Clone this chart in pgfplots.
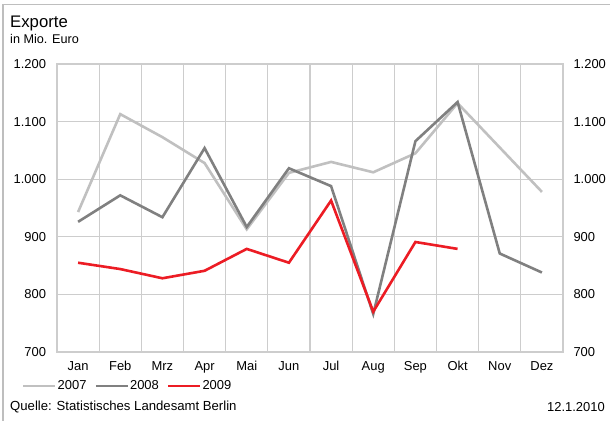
\documentclass[border=0pt]{standalone}
\usepackage{pgfplots}
\pgfplotsset{compat=1.18}
\usepackage{fontspec}
\setmainfont{Liberation Sans}
\definecolor{c07}{RGB}{192,192,192}
\definecolor{c08}{RGB}{128,128,128}
\definecolor{c09}{RGB}{236,28,36}
\definecolor{gridc}{RGB}{205,205,205}
\definecolor{framec}{RGB}{190,190,190}
\begin{document}
\begin{tikzpicture}
\useasboundingbox (0,0) rectangle (610bp,-421bp);
\draw[framec, line width=1.5bp] (3bp,-421bp) -- (3bp,-4.5bp) -- (610bp,-4.5bp);
\node[anchor=base west, inner sep=0pt, font=\fontsize{16.8}{19}\selectfont] at (10bp,-27bp) {Exporte};
\node[anchor=base west, inner sep=0pt, font=\fontsize{12.7}{15}\selectfont] at (10bp,-43bp) {in Mio. Euro};
\node[anchor=base west, inner sep=0pt, font=\fontsize{13.2}{15}\selectfont] at (10bp,-410.5bp) {Quelle: Statistisches Landesamt Berlin};
\node[anchor=base east, inner sep=0pt, font=\fontsize{13}{15}\selectfont] at (605bp,-411bp) {12.1.2010};
\begin{axis}[
  at={(57bp,-352bp)}, anchor=south west,
  scale only axis, width=506bp, height=288bp,
  xmin=-0.5, xmax=11.5, ymin=700, ymax=1200,
  xtick={0,...,11},
  xticklabels={Jan,Feb,Mrz,Apr,Mai,Jun,Jul,Aug,Sep,Okt,Nov,Dez},
  minor xtick={0.5,1.5,...,10.5},
  ytick={700,800,...,1200},
  xminorgrids, ymajorgrids,
  grid style={gridc, line width=1.3bp},
  minor grid style={gridc, line width=1.3bp},
  axis line style={gridc, line width=1.3bp},
  major tick length=0pt, minor tick length=0pt,
  tick style={draw=none},
  ticklabel style={font=\fontsize{13}{15}\selectfont},
  /pgf/number format/assume math mode=true,
  /pgf/number format/.cd, 1000 sep={.}, /pgfplots/.cd,
  yticklabel style={xshift=-7.5bp},
  xticklabel style={yshift=-6bp},
  legend columns=3,
  legend style={draw=none, fill=none, at={(-0.069,-0.118)}, anchor=west,
    font=\fontsize{13}{15}\selectfont, inner sep=0pt,
    nodes={inner sep=1.2bp},
    /tikz/every even column/.append style={column sep=7bp}},
  legend image code/.code={\draw[#1, line width=2.2bp] (0bp,0bp) -- (32bp,0bp);},
  clip=false,
]
\addplot[c07, line width=2.6bp, line join=miter] coordinates {
(0,943) (1,1113) (2,1073) (3,1028) (4,913) (5,1011) (6,1030) (7,1012) (8,1045) (9,1132) (10,1055) (11,978)};
\addlegendentry{2007}
\addplot[c08, line width=2.6bp, line join=miter] coordinates {
(0,926) (1,972) (2,934) (3,1054) (4,917) (5,1019) (6,988) (7,766) (8,1066) (9,1134) (10,871) (11,838)};
\addlegendentry{2008}
\addplot[c09, line width=2.6bp, line join=miter] coordinates {
(0,855) (1,844) (2,828) (3,841) (4,879) (5,855) (6,963) (7,770) (8,891) (9,879)};
\addlegendentry{2009}
\end{axis}
\begin{axis}[
  at={(57bp,-352bp)}, anchor=south west,
  scale only axis, width=506bp, height=288bp,
  xmin=-0.5, xmax=11.5, ymin=700, ymax=1200,
  hide x axis, axis y line*=right,
  y axis line style={draw=none},
  ytick={700,800,...,1200},
  major tick length=0pt, tick style={draw=none},
  ticklabel style={font=\fontsize{13}{15}\selectfont},
  /pgf/number format/assume math mode=true,
  /pgf/number format/.cd, 1000 sep={.}, /pgfplots/.cd,
  yticklabel style={xshift=7bp},
]
\addplot[draw=none] coordinates {(0,700)};
\end{axis}
\end{tikzpicture}
\end{document}
